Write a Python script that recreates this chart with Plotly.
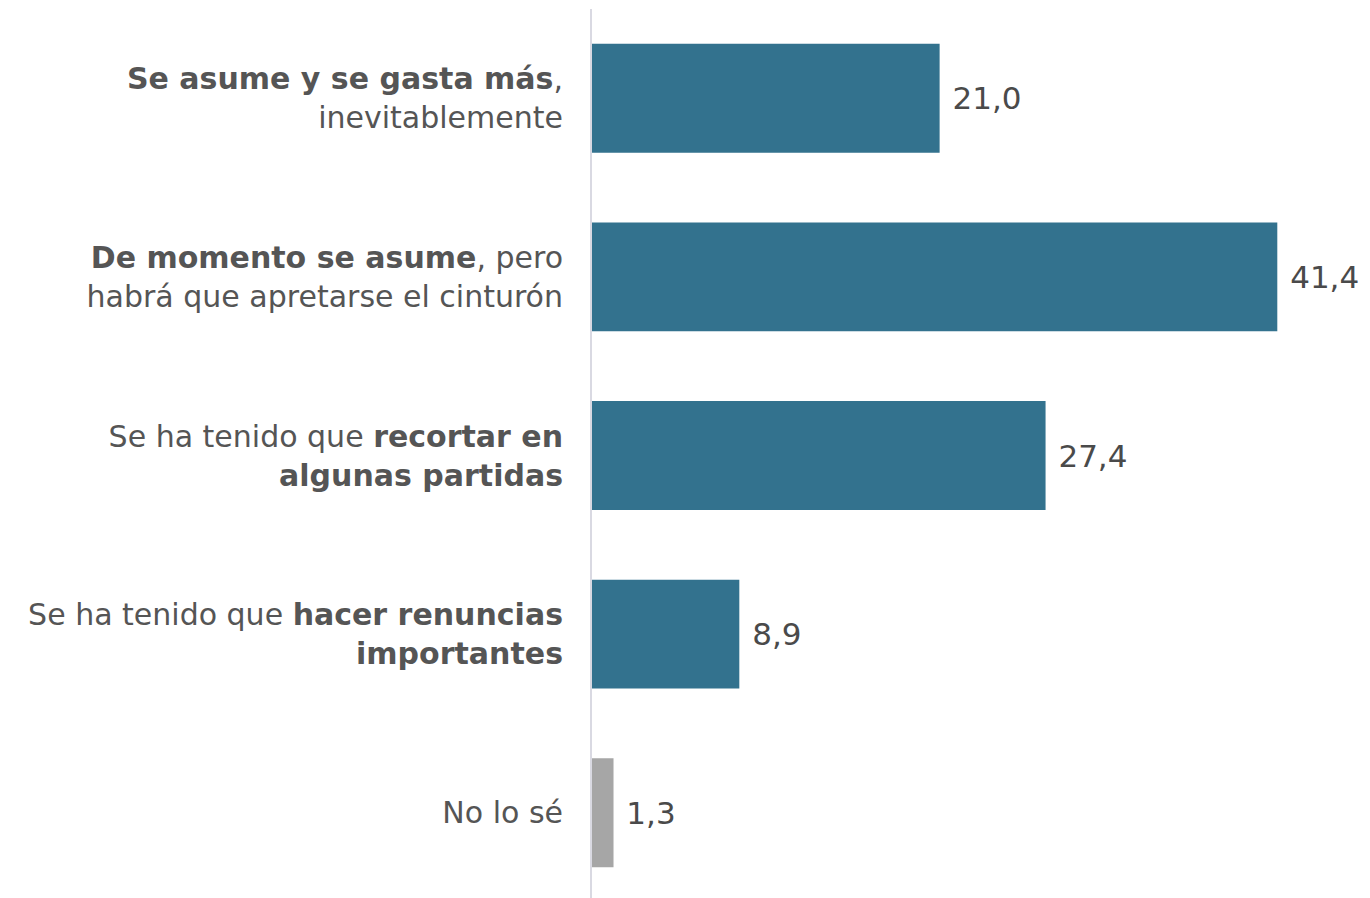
import plotly.graph_objects as go

categories = [
    "<b>Se asume y se gasta más</b>,<br>inevitablemente",
    "<b>De momento se asume</b>, pero<br>habrá que apretarse el cinturón",
    "Se ha tenido que <b>recortar en</b><br><b>algunas partidas</b>",
    "Se ha tenido que <b>hacer renuncias</b><br><b>importantes</b>",
    "No lo sé",
]
values = [21.0, 41.4, 27.4, 8.9, 1.3]
colors = ["#33728E", "#33728E", "#33728E", "#33728E", "#A6A6A6"]

FONT = "DejaVu Sans"
TXT = "#555555"

fig = go.Figure(
    go.Bar(
        x=values,
        y=categories,
        orientation="h",
        marker=dict(color=colors, line=dict(width=0)),
        width=0.61,
        texttemplate="\u00a0%{x:.1f}",
        textposition="outside",
        textfont=dict(family=FONT, size=31, color="#4a4a4a"),
        cliponaxis=False,
        hoverinfo="skip",
    )
)

fig.update_layout(
    width=1362,
    height=894,
    margin=dict(l=584, r=0, t=1, b=0),
    paper_bgcolor="white",
    plot_bgcolor="white",
    separators=",.",
    showlegend=False,
    font=dict(family=FONT, color=TXT),
)
fig.update_xaxes(
    range=[0, 47],
    showgrid=False,
    zeroline=False,
    showticklabels=False,
    showline=False,
)
fig.update_yaxes(
    type="category",
    autorange=False,
    range=[4.5, -0.5],
    showgrid=False,
    zeroline=False,
    showline=True,
    linecolor="#d9d9e2",
    linewidth=2,
    ticks="",
    ticklabelstandoff=21,
    tickfont=dict(family=FONT, size=30, color=TXT),
)

fig.write_html("out.html")
